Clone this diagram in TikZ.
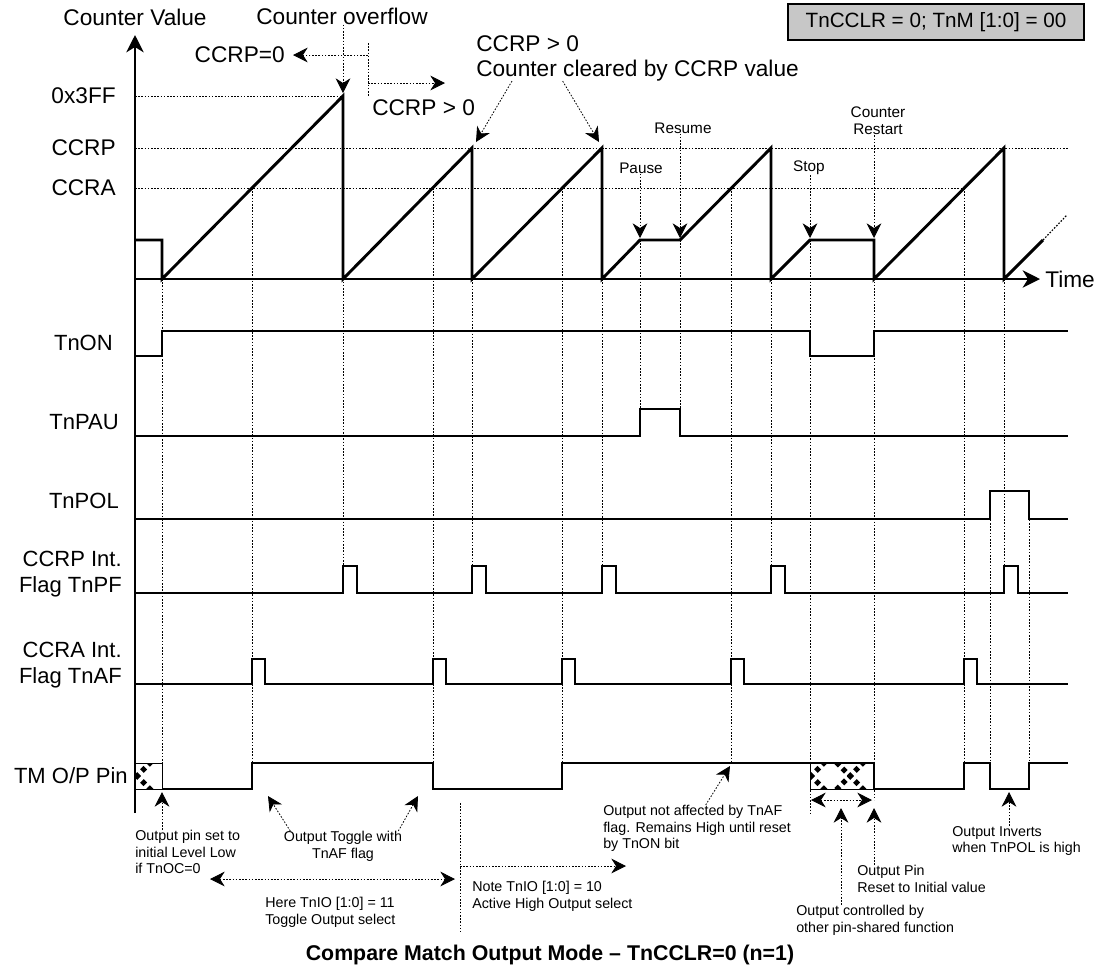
\documentclass[tikz,border=0pt]{standalone}
\usepackage{fontspec}
\setmainfont{Liberation Sans}
\usetikzlibrary{arrows.meta}
\definecolor{boxgray}{gray}{0.78}
\tikzset{
  guide/.style={line width=0.6pt,dash pattern=on 1.2pt off 1.2pt},
  ptr/.style={guide,-{Stealth[length=11pt,width=11pt,inset=3.5pt]}},
  ptrboth/.style={guide,{Stealth[length=11pt,width=11pt,inset=3.5pt]}-{Stealth[length=11pt,width=11pt,inset=3.5pt]}},
  axis/.style={line width=1.5pt,-{Stealth[length=13pt,width=13pt,inset=4pt]}},
  count/.style={line width=2.2pt,line join=miter},
  sig/.style={line width=1.3pt},
  pin/.style={line width=1.6pt},
  hatch/.style={line width=3.8pt,dash pattern=on 3.6pt off 3pt},
  biglbl/.style={inner sep=0pt,font=\fontsize{17}{18.75}\selectfont},
  siglbl/.style={inner sep=0pt,anchor=east,align=right,font=\fontsize{16.5}{20}\selectfont},
  evlbl/.style={inner sep=0pt,font=\fontsize{11.5}{12.75}\selectfont},
  note/.style={inner sep=0pt,anchor=north west,align=left,font=\fontsize{10.7}{12.5}\selectfont},
  modebox/.style={draw,line width=0.8pt,fill=boxgray,minimum width=222pt,minimum height=27pt,font=\fontsize{15.5}{18}\selectfont}
}
\begin{document}
\begin{tikzpicture}[x=0.75pt,y=-0.75pt]
\useasboundingbox (0,0) rectangle (1101,976);
\coordinate (O) at (135,279);
\coordinate (ytop) at (135,35);
\coordinate (ybot) at (135,813);
\coordinate (xend) at (1040,279);

% guide lines
\draw[guide] (O |- 0,96) -- (343,96);
\draw[guide] (O |- 0,148) -- (1068,148);
\draw[guide] (O |- 0,188) -- (964,188);
\foreach \x/\ya/\yb in {162/279/789,252/188/763,343/96/566,433/188/763,472/148/566,
  562/188/763,602/148/566,640/240/409,680/240/409,731/188/763,771/148/566,
  810/240/815,874/240/800,964/188/763,990/491/763,1004/148/566,1029/491/763}
  \draw[guide] (\x,\ya) -- (\x,\yb);

% axes
\draw[axis] (ybot) -- (ytop);
\draw[axis] (O) -- (xend);
\node[biglbl] (cval) at (135,17) {Counter Value};
\node[biglbl,anchor=west] (time) at (1045,279) {Time};
\node[biglbl,anchor=east] (l3ff) at (116,96) {0x3FF};
\node[biglbl,anchor=east] (lccrp) at (116,148) {CCRP};
\node[biglbl,anchor=east] (lccra) at (116,188) {CCRA};

% counter
\draw[count] (135,240) -- (162,240) -- (162,279) -- (343,96) -- (343,279) -- (472,148)
  -- (472,279) -- (602,148) -- (602,279) -- (640,240) -- (680,240) -- (771,148)
  -- (771,279) -- (810,240) -- (874,240) -- (874,279) -- (1004,148) -- (1004,279)
  -- (1043,240);
\draw[guide,line width=0.9pt] (1043,240) -- (1067,215);

% top notes
\node[modebox] (mode) at (936,22) {TnCCLR = 0; TnM [1:0] = 00};
\node[biglbl] (ovf) at (342,16) {Counter overflow};
\coordinate (peak) at (343,93);
\draw[ptr] (ovf.south -| peak) -- (peak);
\node[biglbl,anchor=east] (ccrpzero) at (285,55) {CCRP=0};
\node[biglbl,anchor=west] (ccrpgt) at (372,108) {CCRP > 0};
\coordinate (brkt) at (368,43);
\coordinate (brkb) at (368,97);
\coordinate (zerotip) at (293,55);
\coordinate (gttip) at (445,83);
\draw[guide] (brkt) -- (brkb);
\draw[ptr] (brkt |- zerotip) -- (zerotip);
\draw[ptr] (brkt |- gttip) -- (gttip);
\node[biglbl,anchor=north west,align=left] (cleared) at (476,35) {CCRP > 0\\Counter cleared by CCRP value};
\coordinate (pk1) at (476,142);
\coordinate (pk2) at (599,142);
\draw[ptr] ([xshift=27pt]cleared.south west) -- (pk1);
\draw[ptr] ([xshift=65pt]cleared.south west) -- (pk2);

\node[evlbl] (pause) at (641,168) {Pause};
\node[evlbl] (resume) at (683,128) {Resume};
\node[evlbl] (stop) at (809,168) {Stop};
\node[evlbl,align=center,anchor=north] (restart) at (878,107) {Counter\\Restart};
\coordinate (pau) at (640,238);
\coordinate (res) at (680,238);
\coordinate (stp) at (810,238);
\coordinate (rsr) at (874,238);
\draw[ptr] (pause.south -| pau) -- (pau);
\draw[ptr] (resume.south -| res) -- (res);
\draw[ptr] (stop.south -| stp) -- (stp);
\draw[ptr] (restart.south -| rsr) -- (rsr);

% signals
\node[siglbl] (lon) at (113,343) {TnON};
\node[siglbl] (lpau) at (119,422) {TnPAU};
\node[siglbl] (lpol) at (119,501) {TnPOL};
\node[siglbl] (lpf) at (122,574) {CCRP Int.\\Flag TnPF};
\node[siglbl] (laf) at (122,665) {CCRA Int.\\Flag TnAF};
\node[siglbl] (lpin) at (128,776) {TM O/P Pin};
\draw[sig] (135,356) -- (162,356) -- (162,331) -- (810,331) -- (810,356) -- (874,356)
  -- (874,331) -- (1068,331);
\draw[sig] (135,436) -- (640,436) -- (640,409) -- (680,409) -- (680,436) -- (1068,436);
\draw[sig] (135,519) -- (990,519) -- (990,491) -- (1029,491) -- (1029,519) -- (1068,519);
\draw[sig] (135,593) \foreach \t in {343,472,602,771,1004}
  { -- (\t,593) -- (\t,566) -- ({\t+14},566) -- ({\t+14},593) } -- (1068,593);
\draw[sig] (135,684) \foreach \t in {252,433,562,731,964}
  { -- (\t,684) -- (\t,659) -- ({\t+13},659) -- ({\t+13},684) } -- (1068,684);

% output pin
\draw[line width=0.7pt] (135,763) rectangle (162,789);
\draw[line width=0.7pt] (810,763) rectangle (874,789);
\begin{scope}
\clip (135,763) rectangle (162,789);
\draw[hatch] (117,756) -- (157,796) (117,796) -- (157,756);
\end{scope}
\begin{scope}
\clip (810,763) rectangle (874,789);
\foreach \c in {811,850}
  \draw[hatch] ({\c-20},756) -- ({\c+20},796) ({\c-20},796) -- ({\c+20},756);
\end{scope}
\draw[pin] (162,789) -- (252,789) -- (252,763) -- (433,763) -- (433,789) -- (562,789)
  -- (562,763) -- (874,763) -- (874,789) -- (964,789) -- (964,763) -- (990,763)
  -- (990,789) -- (1029,789) -- (1029,763) -- (1068,763);

% bottom notes
\node[note] (pinset) at (135,830) {Output pin set to\\initial Level Low\\if TnOC=0};
\coordinate (pinlow) at (162,792);
\draw[ptr] (pinset.north west -| pinlow) -- (pinlow);
\node[note,align=center,anchor=north] (toggle) at (343,831) {Output Toggle with\\TnAF flag};
\coordinate (tg1) at (268,796);
\coordinate (tg2) at (418,796);
\draw[ptr] ([xshift=5pt]toggle.north west) -- (tg1);
\draw[ptr] ([xshift=-3pt]toggle.north east) -- (tg2);
\coordinate (hl) at (210,879);
\coordinate (hr) at (455,879);
\draw[ptrboth] (hl) -- (hr);
\coordinate (divtop) at (460,803);
\coordinate (divbot) at (460,932);
\draw[guide] (divtop) -- (divbot);
\coordinate (nr) at (626,866);
\draw[ptr] (divtop |- nr) -- (nr);
\node[note] (here) at (265,897) {Here TnIO [1:0] = 11\\Toggle Output select};
\node[note] (notes) at (472,881) {Note TnIO [1:0] = 10\\Active High Output select};
\node[note] (notaff) at (603,805) {Output not affected by TnAF\\flag. Remains High until reset\\by TnON bit};
\coordinate (keephigh) at (730,766);
\draw[ptr] ([xshift=77pt]notaff.north west) -- (keephigh);
\coordinate (oc1) at (811,800);
\coordinate (oc2) at (872,800);
\draw[ptrboth] (oc1) -- (oc2);
\node[note] (pinrst) at (857,865) {Output Pin\\Reset to Initial value};
\coordinate (rst) at (874,808);
\draw[ptr] (rst |- pinrst.north) -- (rst);
\node[note] (ctrl) at (796,905) {Output controlled by\\other pin-shared function};
\coordinate (ctl) at (841,808);
\draw[ptr] (ctl |- ctrl.north) -- (ctl);
\node[note] (invnote) at (952,826) {Output Inverts\\when TnPOL is high};
\coordinate (inv) at (1009,792);
\draw[ptr] (inv |- invnote.north) -- (inv);

\node[inner sep=0pt,font=\bfseries\fontsize{16}{18}\selectfont] (caption) at (550,955) {Compare Match Output Mode – TnCCLR=0 (n=1)};
\end{tikzpicture}
\end{document}
